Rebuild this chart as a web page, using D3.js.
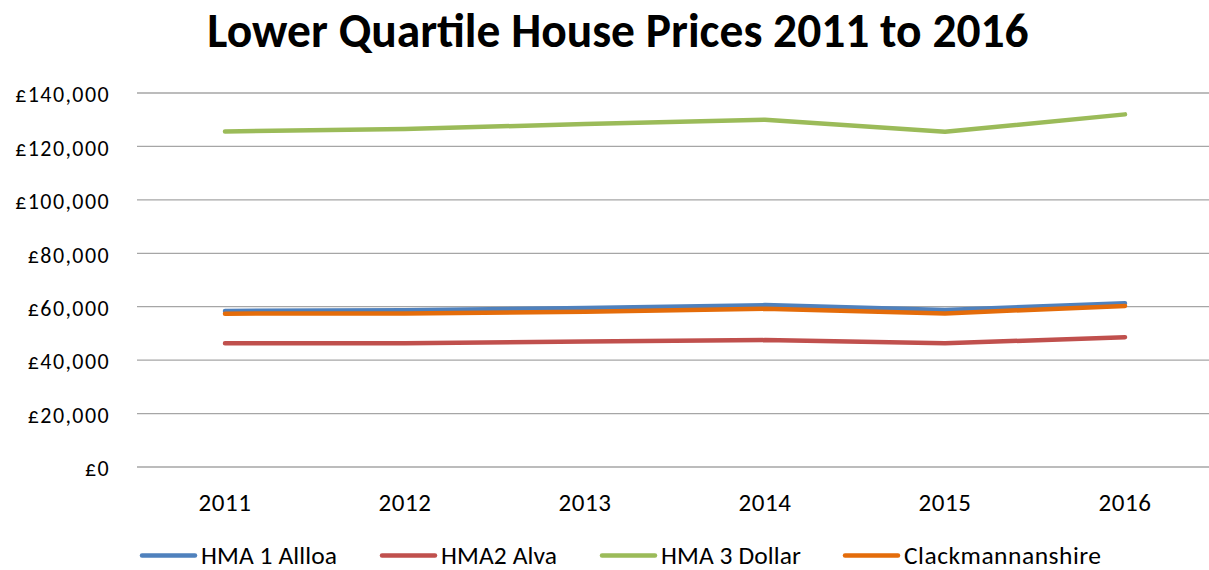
<!DOCTYPE html>
<html>
<head>
<meta charset="utf-8">
<script src="https://cdn.jsdelivr.net/npm/d3@7"></script>
<style>
  body { margin: 0; background: #fff; }
  svg { display: block; font-family: Carlito, Lato, "Open Sans", sans-serif; }
</style>
</head>
<body>
<svg id="chart" width="1209" height="570"></svg>
<script>
// Data
const years = ['2011', '2012', '2013', '2014', '2015', '2016'];
const alloa = [58400, 58700, 59500, 60600, 58800, 61300];
const alva = [46300, 46300, 47000, 47500, 46300, 48600];
const dollar = [125600, 126500, 128400, 130000, 125500, 132000];
const clacks = [57400, 57500, 58100, 59200, 57500, 60300];
const seriesNames = ['HMA 1 Allloa', 'HMA2 Alva', 'HMA 3 Dollar', 'Clackmannanshire'];
const seriesColors = ['#4F81BD', '#C0504D', '#9BBB59', '#E46C0A'];
const yTicks = [0, 20000, 40000, 60000, 80000, 100000, 120000, 140000];

const series = [alloa, alva, dollar, clacks].map((vals, i) => ({
    name: seriesNames[i],
    color: seriesColors[i],
    values: vals.map((v, j) => ({year: years[j], value: v}))
}));

const svg = d3.select('#chart');
const margin = {top: 93, left: 135};
const width = 1080, height = 374;

const g = svg.append('g')
    .attr('transform', `translate(${margin.left}, ${margin.top})`);

// Title
svg.append('text')
    .attr('x', 618)
    .attr('y', 47)
    .attr('text-anchor', 'middle')
    .style('font-size', '47.5px')
    .style('font-weight', 'bold')
    .text('Lower Quartile House Prices 2011 to 2016');

// Scales
const xScale = d3.scaleBand().domain(years).range([0, width]);
const yScale = d3.scaleLinear().domain([0, 140000]).range([height, 0]);

// Gridlines
g.selectAll('.grid')
    .data(yTicks)
    .enter()
    .append('line')
    .attr('x1', 2)
    .attr('x2', width)
    .attr('y1', d => yScale(d))
    .attr('y2', d => yScale(d))
    .style('stroke', '#a6a6a6')
    .style('stroke-width', 1.3);

// Y axis
const fmt = d3.format(',');
const yAxis = g.append('g')
    .call(d3.axisLeft(yScale).tickValues(yTicks).tickSize(0).tickPadding(25)
        .tickFormat(d => '£' + fmt(d)));
yAxis.select('.domain').remove();
yAxis.selectAll('text')
    .attr('dy', '0.4em')
    .style('font-size', '22px')
    .style('letter-spacing', '1.4px')
    .style('font-family', 'Carlito, Lato, "Open Sans", sans-serif')
    .attr('fill', '#000');

// X axis
const xAxis = g.append('g')
    .attr('transform', `translate(0, ${height})`)
    .call(d3.axisBottom(xScale).tickSize(0).tickPadding(26));
xAxis.select('.domain').remove();
xAxis.selectAll('text')
    .style('font-size', '25px')
    .style('letter-spacing', '0.6px')
    .style('font-family', 'Carlito, Lato, "Open Sans", sans-serif')
    .attr('fill', '#000');

// Lines
const line = d3.line()
    .x(d => xScale(d.year) + xScale.bandwidth() / 2)
    .y(d => yScale(d.value));

g.selectAll('.series')
    .data(series)
    .enter()
    .append('path')
    .attr('d', d => line(d.values))
    .style('fill', 'none')
    .style('stroke', d => d.color)
    .style('stroke-width', 4.5)
    .style('stroke-linecap', 'round')
    .style('stroke-linejoin', 'round');

// Legend
const legendX = [142, 382, 602, 845];
const legend = svg.selectAll('.legend')
    .data(series)
    .enter()
    .append('g')
    .attr('transform', (d, i) => `translate(${legendX[i]}, 555.5)`);

legend.append('line')
    .attr('x1', 0)
    .attr('x2', 53)
    .style('stroke', d => d.color)
    .style('stroke-width', 4.5)
    .style('stroke-linecap', 'round');

legend.append('text')
    .attr('x', 59)
    .attr('y', 8.5)
    .style('font-size', '25.5px')
    .style('letter-spacing', d => d.name === 'Clackmannanshire' ? '0.5px' : '0.1px')
    .text(d => d.name);
</script>
</body>
</html>
